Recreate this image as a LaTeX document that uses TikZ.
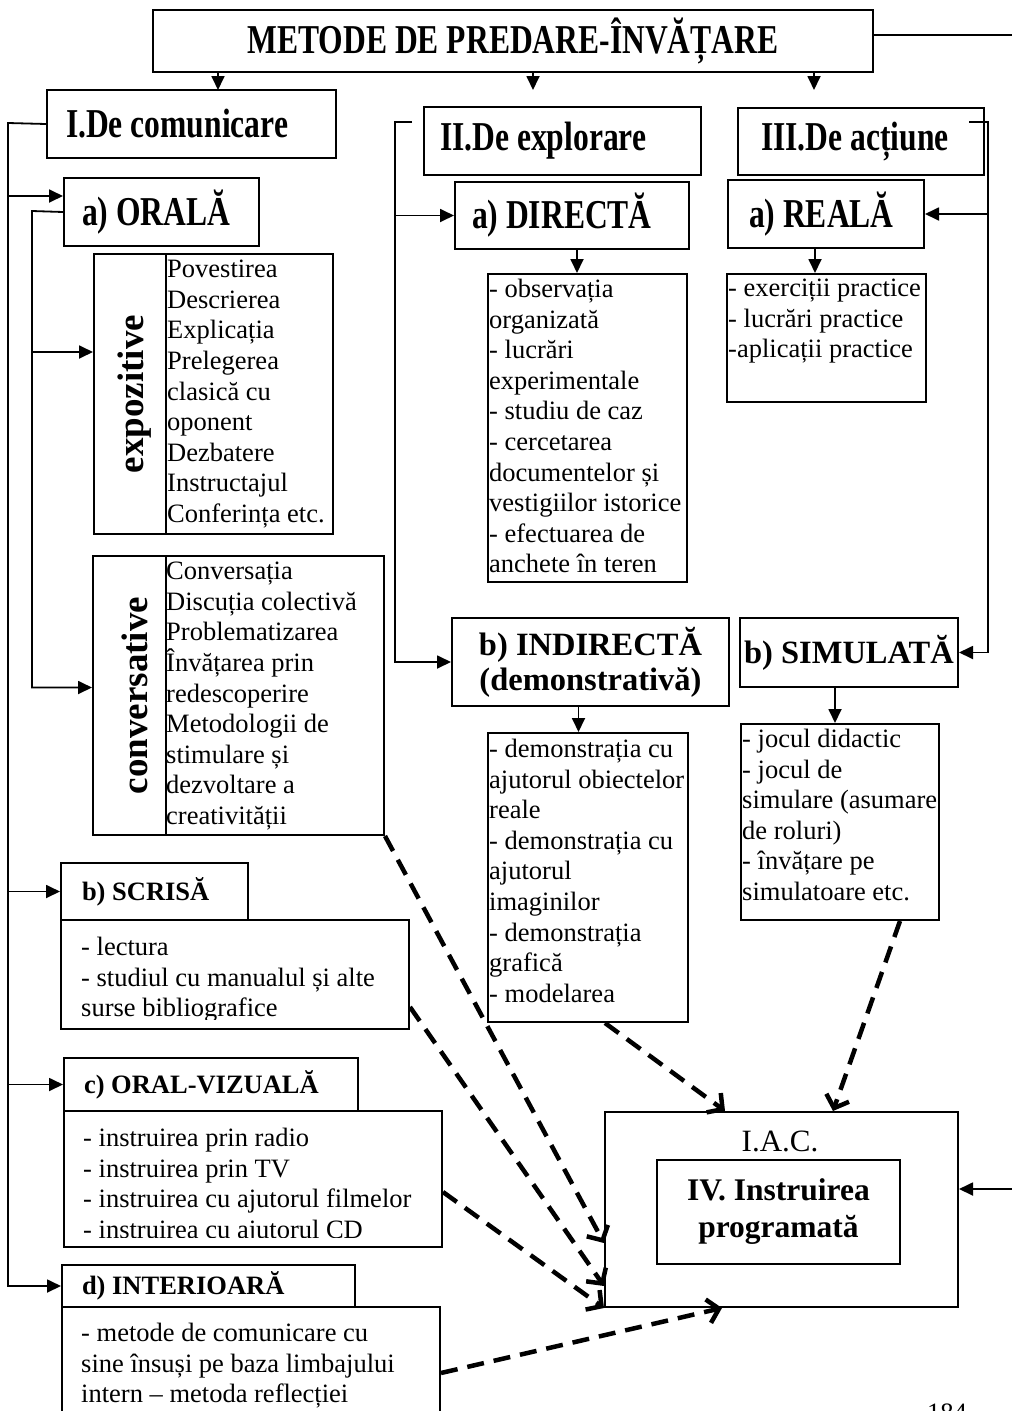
\documentclass[tikz,border=0pt]{standalone}
\usepackage{fontspec}
\setmainfont{Liberation Serif}
\newfontfamily\condserif{Liberation Serif}[FakeStretch=0.77]
\usetikzlibrary{arrows.meta}

\tikzset{
  box/.style={draw, line width=2pt, anchor=north west, inner sep=0pt},
  bighead/.style={box, align=flush left, font=\condserif\bfseries\fontsize{41}{44}\selectfont},
  midhead/.style={box, align=center, font=\bfseries\fontsize{32.5}{35}\selectfont},
  smallhead/.style={box, align=flush left, font=\bfseries\fontsize{26.5}{30}\selectfont},
  txt/.style={anchor=north west, inner sep=0pt, align=left, font=\fontsize{26.5}{30.6}\selectfont},
  vlabel/.style={rotate=90, inner sep=0pt, font=\bfseries\fontsize{37}{40}\selectfont},
  conn/.style={line width=1.8pt},
  arr/.style={conn, -{Triangle[length=14pt,width=13pt]}},
  dasharr/.style={line width=4.5pt, dash pattern=on 17pt off 10pt, -{Straight Barb[length=11pt,width=24pt]}}
}

\begin{document}
\begin{tikzpicture}[x=1pt,y=-1pt]
\useasboundingbox (0,0) rectangle (1012,1411);

\node[bighead, align=center, minimum width=720pt, minimum height=62pt] (title) at (152,9) {METODE DE PREDARE-ÎNVĂȚARE};
\node[bighead, inner xsep=19pt, text width=251pt, minimum height=68pt] (comI) at (46,89) {I.De comunicare};
\node[bighead, inner xsep=16pt, text width=245pt, minimum height=68pt] (explII) at (423,106) {II.De explorare};
\node[bighead, inner xsep=23pt, text width=200pt, minimum height=67pt] (actIII) at (737,107) {III.De acțiune};
\node[bighead, inner xsep=18pt, text width=159pt, minimum height=68pt] (oral) at (63,177) {a) ORALĂ};
\node[bighead, inner xsep=17pt, text width=200pt, minimum height=67pt] (direct) at (454,181) {a) DIRECTĂ};
\node[bighead, inner xsep=21pt, text width=154pt, minimum height=68pt] (reala) at (727,179) {a) REALĂ};

\node[box, minimum width=72pt, minimum height=280pt] (expoL) at (93,253) {};
\node[box, minimum width=167pt, minimum height=280pt] (expoR) at (165,253) {};
\node[vlabel] (expoT) at ([xshift=5pt]expoL.center) {expozitive};
\node[txt] (expoList) at (167,260) {Povestirea\\Descrierea\\Explicația\\Prelegerea\\clasică cu\\oponent\\Dezbatere\\Instructajul\\Conferința etc.};

\node[box, minimum width=73pt, minimum height=279pt] (convL) at (92,555) {};
\node[box, minimum width=218pt, minimum height=279pt] (convR) at (165,555) {};
\node[vlabel] (convT) at ([xshift=5pt]convL.center) {conversative};
\node[txt] (convList) at (166,562) {Conversația\\Discuția colectivă\\Problematizarea\\Învățarea prin\\redescoperire\\Metodologii de\\stimulare și\\dezvoltare a\\creativității};

\node[smallhead, inner xsep=21pt, text width=145pt, minimum height=57pt] (scrisH) at (60,862) {b) SCRISĂ};
\node[box, minimum width=348pt, minimum height=109pt] (scrisB) at (60,919) {};
\begin{scope}
\clip (60,919) rectangle (408,1019);
\node[txt] (scrisT) at (81,937) {- lectura\\- studiul cu manualul și alte\\surse bibliografice};
\end{scope}

\node[smallhead, inner xsep=20pt, text width=254pt, minimum height=53pt] (ovizH) at (63,1057) {c) ORAL-VIZUALĂ};
\node[box, minimum width=378pt, minimum height=136pt] (ovizB) at (63,1110) {};
\begin{scope}
\clip (63,1110) rectangle (441,1237);
\node[txt] (ovizT) at (83,1128) {- instruirea prin radio\\- instruirea prin TV\\- instruirea cu ajutorul filmelor\\- instruirea cu ajutorul CD};
\end{scope}

\node[smallhead, inner xsep=20pt, text width=253pt, minimum height=42pt] (interH) at (61,1264) {d) INTERIOARĂ};
\node[box, minimum width=378pt, minimum height=130pt] (interB) at (61,1306) {};
\node[txt] (interT) at (81,1323) {- metode de comunicare cu\\sine însuși pe baza limbajului\\intern – metoda reflecției};

\node[box, minimum width=199pt, minimum height=308pt] (directL) at (487,273) {};
\node[txt] (directT) at (489,279) {- observația\\organizată\\- lucrări\\experimentale\\- studiu de caz\\- cercetarea\\documentelor și\\vestigiilor istorice\\- efectuarea de\\anchete în teren};
\node[midhead, minimum width=277pt, minimum height=88pt] (indirect) at (451,617) {b) INDIRECTĂ\\(demonstrativă)};
\node[box, minimum width=200pt, minimum height=289pt] (indirL) at (487,732) {};
\node[txt] (indirT) at (489,739) {- demonstrația cu\\ajutorul obiectelor\\reale\\- demonstrația cu\\ajutorul\\imaginilor\\- demonstrația\\grafică\\- modelarea};

\node[box, minimum width=199pt, minimum height=128pt] (realaL) at (726,273) {};
\node[txt] (realaT) at (728,279) {- exerciții practice\\- lucrări practice\\-aplicații practice};
\node[midhead, minimum width=218pt, minimum height=69pt] (simul) at (739,617) {b) SIMULATĂ};
\node[box, minimum width=198pt, minimum height=196pt] (simulL) at (740,723) {};
\node[txt] (simulT) at (742,729) {- jocul didactic\\- jocul de\\simulare (asumare\\de roluri)\\- învățare pe\\simulatoare etc.};

\node[box, minimum width=353pt, minimum height=195pt] (iac) at (604,1111) {};
\node[anchor=base, inner sep=0pt, font=\fontsize{31}{34}\selectfont] (iacT) at (780,1151) {I.A.C.};
\node[box, align=center, font=\bfseries\fontsize{31.5}{37}\selectfont, minimum width=243pt, minimum height=104pt] (prog) at (656,1159) {IV. Instruirea\\programată};

\node[anchor=north west, inner sep=0pt, font=\fontsize{26.5}{30}\selectfont] (pg) at (927,1404) {184};

\coordinate (tI) at (218,90);
\coordinate (tII) at (533,90);
\coordinate (tIII) at (814,90);
\draw[arr] (title.south -| tI) -- (tI);
\draw[arr] (title.south -| tII) -- (tII);
\draw[arr] (title.south -| tIII) -- (tIII);
\coordinate (rTop) at (1012,35);
\draw[conn] (rTop -| title.east) -- (rTop);

\coordinate (lI) at (8,123);
\coordinate (oralIn) at ([yshift=16pt]oral.west);
\draw[arr] (comI.west) -- (lI) |- (interH.west);
\draw[arr] (lI |- oralIn) -- (oralIn);
\draw[arr] (lI |- scrisH.west) -- (scrisH.west);
\draw[arr] (lI |- ovizH.west) -- (ovizH.west);

\coordinate (lO) at (32,211);
\coordinate (expoIn) at ([yshift=42pt]expoL.west);
\coordinate (convIn) at ([yshift=8pt]convL.west);
\draw[arr] (oral.west) -- (lO) |- (convIn);
\draw[arr] (lO |- expoIn) -- (expoIn);

\coordinate (kII) at (412,122);
\coordinate (lII) at (395,122);
\draw[arr] (kII) -- (lII) |- (indirect.west);
\draw[arr] (lII |- direct.west) -- (direct.west);

\coordinate (kIII) at (969,122);
\coordinate (lIII) at (988,122);
\draw[arr] (kIII) -- (lIII) |- (simul.east);
\draw[arr] (lIII |- reala.east) -- (reala.east);

\coordinate (dA) at ([xshift=5pt]direct.south);
\coordinate (rA) at ([xshift=-11pt]reala.south);
\coordinate (iA) at ([xshift=-12pt]indirect.south);
\coordinate (sA) at ([xshift=-14pt]simul.south);
\draw[arr] (dA) -- (dA |- directL.north);
\draw[arr] (rA) -- (rA |- realaL.north);
\draw[arr] (iA) -- (iA |- indirL.north);
\draw[arr] (sA) -- (sA |- simulL.north);

\coordinate (rIV) at (1012,1189);
\draw[arr] (rIV) -- (rIV -| iac.east);

\draw[dasharr] (convR.south east) -- ([yshift=65pt]iac.south west);
\draw[dasharr] ([yshift=23pt]scrisB.south east) -- ([yshift=22pt]iac.south west);
\draw[dasharr] ([yshift=56pt]ovizB.south east) -- (iac.south west);
\draw[dasharr] ([yshift=-67pt]interB.north east) -- ([xshift=118pt]iac.south west);
\draw[dasharr] ([xshift=17pt]indirL.south) -- ([xshift=121pt]iac.north west);
\draw[dasharr] ([xshift=60pt]simulL.south) -- ([xshift=229pt]iac.north west);
\end{tikzpicture}
\end{document}
